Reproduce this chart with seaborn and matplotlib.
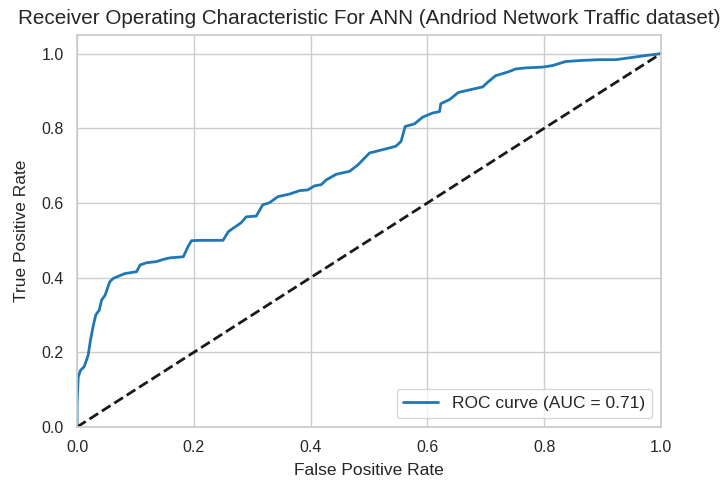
import matplotlib
matplotlib.use("Agg")
import matplotlib.pyplot as plt
import seaborn as sns
import pandas as pd

fpr = [0.0, 0.0, 0.002, 0.006, 0.012, 0.017, 0.019, 0.023, 0.028, 0.032, 0.038, 0.042,
       0.048, 0.052, 0.056, 0.062, 0.071, 0.082, 0.102, 0.108, 0.119, 0.136, 0.148,
       0.159, 0.182, 0.19, 0.196, 0.21, 0.25, 0.259, 0.267, 0.281, 0.29, 0.307, 0.318,
       0.33, 0.344, 0.364, 0.381, 0.395, 0.407, 0.418, 0.427, 0.444, 0.467, 0.481,
       0.501, 0.524, 0.546, 0.555, 0.562, 0.578, 0.592, 0.609, 0.621, 0.623, 0.638,
       0.653, 0.672, 0.695, 0.703, 0.717, 0.74, 0.751, 0.769, 0.797, 0.814, 0.837,
       0.866, 0.894, 0.923, 0.951, 0.974, 1.0]
tpr = [0.0, 0.063, 0.134, 0.152, 0.161, 0.183, 0.192, 0.233, 0.273, 0.30, 0.313, 0.34,
       0.353, 0.371, 0.389, 0.398, 0.404, 0.411, 0.416, 0.434, 0.44, 0.443, 0.449,
       0.453, 0.456, 0.483, 0.499, 0.50, 0.50, 0.523, 0.532, 0.547, 0.563, 0.565, 0.595,
       0.601, 0.617, 0.624, 0.633, 0.635, 0.646, 0.649, 0.662, 0.677, 0.685, 0.702,
       0.734, 0.743, 0.752, 0.765, 0.805, 0.812, 0.83, 0.841, 0.845, 0.866, 0.877,
       0.896, 0.903, 0.911, 0.923, 0.941, 0.952, 0.959, 0.962, 0.964, 0.968, 0.979,
       0.982, 0.984, 0.984, 0.99, 0.995, 1.0]
chance = [0.0, 1.0]
auc_value = 0.71

sns.set_theme(style="whitegrid")
plt.rcParams['font.family'] = ['Liberation Sans', 'DejaVu Sans']
plt.rcParams['text.color'] = '#262626'

fig = plt.figure(figsize=(7.27, 4.83), dpi=100)
ax = fig.add_axes([0.106, 0.116, 0.803, 0.8115])

df = pd.DataFrame({"fpr": fpr, "tpr": tpr})
sns.lineplot(data=df, x="fpr", y="tpr", ax=ax, color="#1f77b4", linewidth=2,
             sort=False, estimator=None, label=f"ROC curve (AUC = {auc_value:.2f})")
ax.plot(chance, chance, "k--", linewidth=2)

ax.set_xlim(0.0, 1.0)
ax.set_ylim(0.0, 1.05)
ax.tick_params(labelsize=11.5)
ax.set_xlabel("False Positive Rate", fontsize=12.5, labelpad=6)
ax.set_ylabel("True Positive Rate", fontsize=12.5, labelpad=9)
ax.set_title("Receiver Operating Characteristic For ANN (Andriod Network Traffic dataset)",
             fontsize=14.9, pad=8)
ax.legend(loc="lower right", fontsize=12.5)

fig.savefig("out.png", dpi=100)
